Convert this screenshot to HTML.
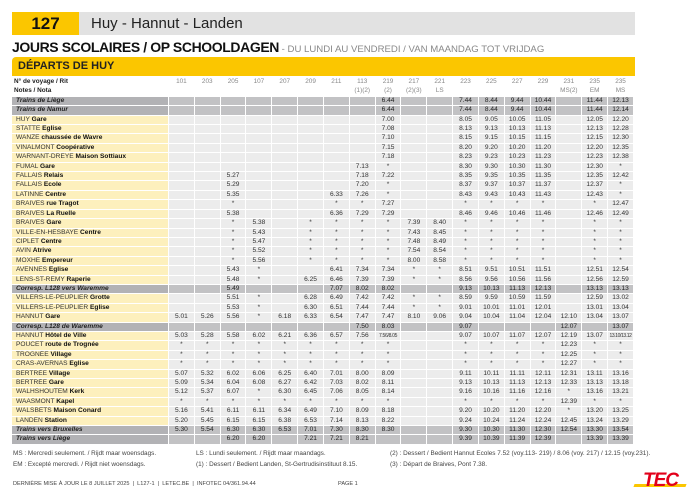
<!DOCTYPE html>
<html><head><meta charset="utf-8"><style>
*{margin:0;padding:0;box-sizing:border-box}
body{width:699px;height:494px;background:#fff;position:relative;overflow:hidden;font-family:"Liberation Sans",sans-serif;color:#222}
.a{position:absolute;white-space:nowrap}
table{position:absolute;left:11px;top:77px;border-collapse:separate;border-spacing:1px;table-layout:fixed;width:623px}
td{height:8.4px;line-height:8.4px;font-size:6.6px;padding:0;text-align:center;background:#ececec;color:#333;overflow:hidden;white-space:nowrap}
td:first-child{text-align:left;padding-left:4px;background:#fdf0bd;color:#333;width:156px}
td:first-child b{color:#111}
tr.h td{background:#fff;color:#888;font-size:6.4px}
tr.h td:first-child{background:#fff;color:#222;font-weight:bold;padding-left:2px}
tr.g td{background:#c2c2c4;color:#222}
tr.g td:first-child{background:#b2b2b5;font-weight:bold;font-style:italic;color:#222}
.n{font-size:6.4px;color:#444}
</style></head><body>
<div class="a" style="left:12px;top:12px;width:67px;height:23px;background:#fbc600;font-weight:bold;font-size:17px;line-height:23px;text-align:center;color:#111">127</div>
<div class="a" style="left:79px;top:12px;width:556px;height:23px;background:#e2e2e2;font-size:15px;line-height:23px;padding-left:12px;color:#222">Huy - Hannut - Landen</div>
<div class="a" style="left:12px;top:39px;font-size:14px;line-height:17px;font-weight:900;letter-spacing:-0.4px;color:#111">JOURS SCOLAIRES / OP SCHOOLDAGEN<span style="font-weight:normal;font-size:9.6px;letter-spacing:0;color:#888"> - DU LUNDI AU VENDREDI / VAN MAANDAG TOT VRIJDAG</span></div>
<div class="a" style="left:12px;top:57px;width:623px;height:19px;background:#fbc600;border-radius:4px 0 0 0;font-weight:bold;font-size:11px;line-height:19px;padding-left:6px;color:#222">DÉPARTS DE HUY</div>
<table>
<tr class="h"><td>N° de voyage / Rit</td><td>101</td><td>203</td><td>205</td><td>107</td><td>207</td><td>209</td><td>211</td><td>113</td><td>219</td><td>217</td><td>221</td><td>223</td><td>225</td><td>227</td><td>229</td><td>231</td><td>235</td><td>235</td></tr>
<tr class="h"><td>Notes / Nota</td><td></td><td></td><td></td><td></td><td></td><td></td><td></td><td>(1)(2)</td><td>(2)</td><td>(2)(3)</td><td>LS</td><td></td><td></td><td></td><td></td><td>MS(2)</td><td>EM</td><td>MS</td></tr>
<tr class="g"><td>Trains de Liège</td><td></td><td></td><td></td><td></td><td></td><td></td><td></td><td></td><td>6.44</td><td></td><td></td><td>7.44</td><td>8.44</td><td>9.44</td><td>10.44</td><td></td><td>11.44</td><td>12.13</td></tr>
<tr class="g"><td>Trains de Namur</td><td></td><td></td><td></td><td></td><td></td><td></td><td></td><td></td><td>6.44</td><td></td><td></td><td>7.44</td><td>8.44</td><td>9.44</td><td>10.44</td><td></td><td>11.44</td><td>12.14</td></tr>
<tr><td>HUY <b>Gare</b></td><td></td><td></td><td></td><td></td><td></td><td></td><td></td><td></td><td>7.00</td><td></td><td></td><td>8.05</td><td>9.05</td><td>10.05</td><td>11.05</td><td></td><td>12.05</td><td>12.20</td></tr>
<tr><td>STATTE <b>Eglise</b></td><td></td><td></td><td></td><td></td><td></td><td></td><td></td><td></td><td>7.08</td><td></td><td></td><td>8.13</td><td>9.13</td><td>10.13</td><td>11.13</td><td></td><td>12.13</td><td>12.28</td></tr>
<tr><td>WANZE <b>chaussée de Wavre</b></td><td></td><td></td><td></td><td></td><td></td><td></td><td></td><td></td><td>7.10</td><td></td><td></td><td>8.15</td><td>9.15</td><td>10.15</td><td>11.15</td><td></td><td>12.15</td><td>12.30</td></tr>
<tr><td>VINALMONT <b>Coopérative</b></td><td></td><td></td><td></td><td></td><td></td><td></td><td></td><td></td><td>7.15</td><td></td><td></td><td>8.20</td><td>9.20</td><td>10.20</td><td>11.20</td><td></td><td>12.20</td><td>12.35</td></tr>
<tr><td>WARNANT-DREYE <b>Maison Sottiaux</b></td><td></td><td></td><td></td><td></td><td></td><td></td><td></td><td></td><td>7.18</td><td></td><td></td><td>8.23</td><td>9.23</td><td>10.23</td><td>11.23</td><td></td><td>12.23</td><td>12.38</td></tr>
<tr><td>FUMAL <b>Gare</b></td><td></td><td></td><td></td><td></td><td></td><td></td><td></td><td>7.13</td><td>*</td><td></td><td></td><td>8.30</td><td>9.30</td><td>10.30</td><td>11.30</td><td></td><td>12.30</td><td>*</td></tr>
<tr><td>FALLAIS <b>Relais</b></td><td></td><td></td><td>5.27</td><td></td><td></td><td></td><td></td><td>7.18</td><td>7.22</td><td></td><td></td><td>8.35</td><td>9.35</td><td>10.35</td><td>11.35</td><td></td><td>12.35</td><td>12.42</td></tr>
<tr><td>FALLAIS <b>Ecole</b></td><td></td><td></td><td>5.29</td><td></td><td></td><td></td><td></td><td>7.20</td><td>*</td><td></td><td></td><td>8.37</td><td>9.37</td><td>10.37</td><td>11.37</td><td></td><td>12.37</td><td>*</td></tr>
<tr><td>LATINNE <b>Centre</b></td><td></td><td></td><td>5.35</td><td></td><td></td><td></td><td>6.33</td><td>7.26</td><td>*</td><td></td><td></td><td>8.43</td><td>9.43</td><td>10.43</td><td>11.43</td><td></td><td>12.43</td><td>*</td></tr>
<tr><td>BRAIVES <b>rue Tragot</b></td><td></td><td></td><td>*</td><td></td><td></td><td></td><td>*</td><td>*</td><td>7.27</td><td></td><td></td><td>*</td><td>*</td><td>*</td><td>*</td><td></td><td>*</td><td>12.47</td></tr>
<tr><td>BRAIVES <b>La Ruelle</b></td><td></td><td></td><td>5.38</td><td></td><td></td><td></td><td>6.36</td><td>7.29</td><td>7.29</td><td></td><td></td><td>8.46</td><td>9.46</td><td>10.46</td><td>11.46</td><td></td><td>12.46</td><td>12.49</td></tr>
<tr><td>BRAIVES <b>Gare</b></td><td></td><td></td><td>*</td><td>5.38</td><td></td><td>*</td><td>*</td><td>*</td><td>*</td><td>7.39</td><td>8.40</td><td>*</td><td>*</td><td>*</td><td>*</td><td></td><td>*</td><td>*</td></tr>
<tr><td>VILLE-EN-HESBAYE <b>Centre</b></td><td></td><td></td><td>*</td><td>5.43</td><td></td><td>*</td><td>*</td><td>*</td><td>*</td><td>7.43</td><td>8.45</td><td>*</td><td>*</td><td>*</td><td>*</td><td></td><td>*</td><td>*</td></tr>
<tr><td>CIPLET <b>Centre</b></td><td></td><td></td><td>*</td><td>5.47</td><td></td><td>*</td><td>*</td><td>*</td><td>*</td><td>7.48</td><td>8.49</td><td>*</td><td>*</td><td>*</td><td>*</td><td></td><td>*</td><td>*</td></tr>
<tr><td>AVIN <b>Atrive</b></td><td></td><td></td><td>*</td><td>5.52</td><td></td><td>*</td><td>*</td><td>*</td><td>*</td><td>7.54</td><td>8.54</td><td>*</td><td>*</td><td>*</td><td>*</td><td></td><td>*</td><td>*</td></tr>
<tr><td>MOXHE <b>Empereur</b></td><td></td><td></td><td>*</td><td>5.56</td><td></td><td>*</td><td>*</td><td>*</td><td>*</td><td>8.00</td><td>8.58</td><td>*</td><td>*</td><td>*</td><td>*</td><td></td><td>*</td><td>*</td></tr>
<tr><td>AVENNES <b>Eglise</b></td><td></td><td></td><td>5.43</td><td>*</td><td></td><td></td><td>6.41</td><td>7.34</td><td>7.34</td><td>*</td><td>*</td><td>8.51</td><td>9.51</td><td>10.51</td><td>11.51</td><td></td><td>12.51</td><td>12.54</td></tr>
<tr><td>LENS-ST-REMY <b>Raperie</b></td><td></td><td></td><td>5.48</td><td>*</td><td></td><td>6.25</td><td>6.46</td><td>7.39</td><td>7.39</td><td>*</td><td>*</td><td>8.56</td><td>9.56</td><td>10.56</td><td>11.56</td><td></td><td>12.56</td><td>12.59</td></tr>
<tr class="g"><td>Corresp. L128 vers Waremme</td><td></td><td></td><td>5.49</td><td></td><td></td><td></td><td>7.07</td><td>8.02</td><td>8.02</td><td></td><td></td><td>9.13</td><td>10.13</td><td>11.13</td><td>12.13</td><td></td><td>13.13</td><td>13.13</td></tr>
<tr><td>VILLERS-LE-PEUPLIER <b>Grotte</b></td><td></td><td></td><td>5.51</td><td>*</td><td></td><td>6.28</td><td>6.49</td><td>7.42</td><td>7.42</td><td>*</td><td>*</td><td>8.59</td><td>9.59</td><td>10.59</td><td>11.59</td><td></td><td>12.59</td><td>13.02</td></tr>
<tr><td>VILLERS-LE-PEUPLIER <b>Eglise</b></td><td></td><td></td><td>5.53</td><td>*</td><td></td><td>6.30</td><td>6.51</td><td>7.44</td><td>7.44</td><td>*</td><td>*</td><td>9.01</td><td>10.01</td><td>11.01</td><td>12.01</td><td></td><td>13.01</td><td>13.04</td></tr>
<tr><td>HANNUT <b>Gare</b></td><td>5.01</td><td>5.26</td><td>5.56</td><td>*</td><td>6.18</td><td>6.33</td><td>6.54</td><td>7.47</td><td>7.47</td><td>8.10</td><td>9.06</td><td>9.04</td><td>10.04</td><td>11.04</td><td>12.04</td><td>12.10</td><td>13.04</td><td>13.07</td></tr>
<tr class="g"><td>Corresp. L128 de Waremme</td><td></td><td></td><td></td><td></td><td></td><td></td><td></td><td>7.50</td><td>8.03</td><td></td><td></td><td>9.07</td><td></td><td></td><td></td><td>12.07</td><td></td><td>13.07</td></tr>
<tr><td>HANNUT <b>Hôtel de Ville</b></td><td>5.03</td><td>5.28</td><td>5.58</td><td>6.02</td><td>6.21</td><td>6.36</td><td>6.57</td><td>7.56</td><td style="font-size:5px;letter-spacing:-0.3px">7.56/8.05</td><td></td><td></td><td>9.07</td><td>10.07</td><td>11.07</td><td>12.07</td><td>12.19</td><td>13.07</td><td style="font-size:5px;letter-spacing:-0.4px">13.10/13.12</td></tr>
<tr><td>POUCET <b>route de Trognée</b></td><td>*</td><td>*</td><td>*</td><td>*</td><td>*</td><td>*</td><td>*</td><td>*</td><td>*</td><td></td><td></td><td>*</td><td>*</td><td>*</td><td>*</td><td>12.23</td><td>*</td><td>*</td></tr>
<tr><td>TROGNÉE <b>Village</b></td><td>*</td><td>*</td><td>*</td><td>*</td><td>*</td><td>*</td><td>*</td><td>*</td><td>*</td><td></td><td></td><td>*</td><td>*</td><td>*</td><td>*</td><td>12.25</td><td>*</td><td>*</td></tr>
<tr><td>CRAS-AVERNAS <b>Eglise</b></td><td>*</td><td>*</td><td>*</td><td>*</td><td>*</td><td>*</td><td>*</td><td>*</td><td>*</td><td></td><td></td><td>*</td><td>*</td><td>*</td><td>*</td><td>12.27</td><td>*</td><td>*</td></tr>
<tr><td>BERTRÉE <b>Village</b></td><td>5.07</td><td>5.32</td><td>6.02</td><td>6.06</td><td>6.25</td><td>6.40</td><td>7.01</td><td>8.00</td><td>8.09</td><td></td><td></td><td>9.11</td><td>10.11</td><td>11.11</td><td>12.11</td><td>12.31</td><td>13.11</td><td>13.16</td></tr>
<tr><td>BERTRÉE <b>Gare</b></td><td>5.09</td><td>5.34</td><td>6.04</td><td>6.08</td><td>6.27</td><td>6.42</td><td>7.03</td><td>8.02</td><td>8.11</td><td></td><td></td><td>9.13</td><td>10.13</td><td>11.13</td><td>12.13</td><td>12.33</td><td>13.13</td><td>13.18</td></tr>
<tr><td>WALHSHOUTEM <b>Kerk</b></td><td>5.12</td><td>5.37</td><td>6.07</td><td>*</td><td>6.30</td><td>6.45</td><td>7.06</td><td>8.05</td><td>8.14</td><td></td><td></td><td>9.16</td><td>10.16</td><td>11.16</td><td>12.16</td><td>*</td><td>13.16</td><td>13.21</td></tr>
<tr><td>WAASMONT <b>Kapel</b></td><td>*</td><td>*</td><td>*</td><td>*</td><td>*</td><td>*</td><td>*</td><td>*</td><td>*</td><td></td><td></td><td>*</td><td>*</td><td>*</td><td>*</td><td>12.39</td><td>*</td><td>*</td></tr>
<tr><td>WALSBETS <b>Maison Conard</b></td><td>5.16</td><td>5.41</td><td>6.11</td><td>6.11</td><td>6.34</td><td>6.49</td><td>7.10</td><td>8.09</td><td>8.18</td><td></td><td></td><td>9.20</td><td>10.20</td><td>11.20</td><td>12.20</td><td>*</td><td>13.20</td><td>13.25</td></tr>
<tr><td>LANDEN <b>Station</b></td><td>5.20</td><td>5.45</td><td>6.15</td><td>6.15</td><td>6.38</td><td>6.53</td><td>7.14</td><td>8.13</td><td>8.22</td><td></td><td></td><td>9.24</td><td>10.24</td><td>11.24</td><td>12.24</td><td>12.45</td><td>13.24</td><td>13.29</td></tr>
<tr class="g"><td>Trains vers Bruxelles</td><td>5.30</td><td>5.54</td><td>6.30</td><td>6.30</td><td>6.53</td><td>7.01</td><td>7.30</td><td>8.30</td><td>8.30</td><td></td><td></td><td>9.30</td><td>10.30</td><td>11.30</td><td>12.30</td><td>12.54</td><td>13.30</td><td>13.54</td></tr>
<tr class="g"><td>Trains vers Liège</td><td></td><td></td><td>6.20</td><td>6.20</td><td></td><td>7.21</td><td>7.21</td><td>8.21</td><td></td><td></td><td></td><td>9.39</td><td>10.39</td><td>11.39</td><td>12.39</td><td></td><td>13.39</td><td>13.39</td></tr>
</table>
<div class="a n" style="left:13px;top:450px">MS : Mercredi seulement. / Rijdt maar woensdags.</div>
<div class="a n" style="left:13px;top:461px">EM : Excepté mercredi. / Rijdt niet woensdags.</div>
<div class="a n" style="left:196px;top:450px">LS : Lundi seulement. / Rijdt maar maandags.</div>
<div class="a n" style="left:196px;top:461px">(1) : Dessert / Bedient Landen, St-Gertrudisinstituut 8.15.</div>
<div class="a n" style="left:390px;top:450px">(2) : Dessert / Bedient Hannut Ecoles 7.52 (voy.113- 219) / 8.06 (voy. 217) / 12.15 (voy.231).</div>
<div class="a n" style="left:390px;top:461px">(3) : Départ de Braives, Pont 7.38.</div>
<div class="a" style="left:13px;top:481px;font-size:5.6px;color:#444">DERNIÈRE MISE À JOUR LE 8 JUILLET 2025 &nbsp;|&nbsp; L127-1 &nbsp;|&nbsp; LETEC.BE &nbsp;|&nbsp; INFOTEC 04/361.94.44</div>
<div class="a" style="left:338px;top:481px;font-size:5.6px;color:#444">PAGE 1</div>
<div class="a" style="left:634px;top:484px;width:52px;height:3px;background:#fbc600;transform:skewX(-20deg)"></div>
<div class="a" style="left:643px;top:470px;font-size:19px;font-weight:900;font-style:italic;color:#e2001a;letter-spacing:-1px;line-height:22px">TEC</div>
</body></html>
